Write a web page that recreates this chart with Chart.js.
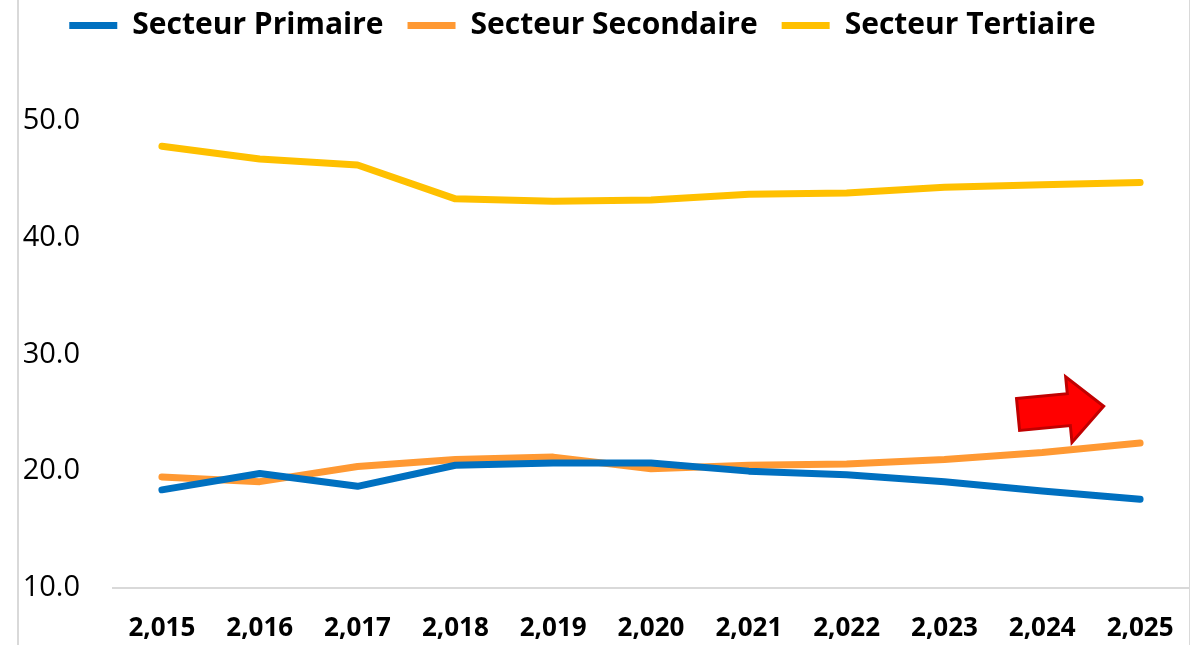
<!DOCTYPE html>
<html>
<head>
<meta charset="utf-8">
<script src="https://cdn.jsdelivr.net/npm/chart.js@4.4.1/dist/chart.umd.min.js"></script>
<style>
    html, body { margin: 0; padding: 0; background: #ffffff; }
    #wrap { position: relative; width: 1190px; height: 645px; }
    #frame {
        position: absolute; left: 17px; top: 0; width: 1170px; height: 645px;
        border-left: 2px solid #d9d9d9; border-right: 1px solid #d9d9d9;
        pointer-events: none;
    }
</style>
</head>
<body>
<div id="wrap">
    <canvas id="sectorChart" width="1190" height="645"></canvas>
    <div id="frame"></div>
</div>
<script>
// 연도 (엑셀 천단위 서식 그대로)
const years = ['2,015', '2,016', '2,017', '2,018', '2,019', '2,020', '2,021', '2,022', '2,023', '2,024', '2,025'];

// 부문별 비중 (%)
const primaire   = [18.4, 19.8, 18.7, 20.5, 20.7, 20.7, 20.0, 19.7, 19.1, 18.3, 17.6];
const secondaire = [19.5, 19.1, 20.4, 21.0, 21.2, 20.2, 20.5, 20.6, 21.0, 21.6, 22.4];
const tertiaire  = [47.8, 46.7, 46.2, 43.3, 43.1, 43.2, 43.7, 43.8, 44.3, 44.5, 44.7];

const yTicks = [10, 20, 30, 40, 50];

// 빨간 화살표 위치 (x = 연도 인덱스, y = 값)
const arrowAnchor = { x: 9.19, y: 25.2 };

const FONT = "'Open Sans', 'Noto Sans', sans-serif";

// 화살표 그리는 플러그인
const arrowPlugin = {
    id: 'trendArrow',
    afterDatasetsDraw(chart) {
        const ctx = chart.ctx;
        const cx = chart.scales.x.getPixelForValue(arrowAnchor.x);
        const cy = chart.scales.y.getPixelForValue(arrowAnchor.y);

        ctx.save();
        ctx.translate(cx, cy);
        ctx.rotate(-5.5 * Math.PI / 180);
        ctx.beginPath();
        ctx.moveTo(-43, -16);
        ctx.lineTo(8, -16);
        ctx.lineTo(8, -33);
        ctx.lineTo(43, 0);
        ctx.lineTo(8, 33);
        ctx.lineTo(8, 16);
        ctx.lineTo(-43, 16);
        ctx.closePath();
        ctx.fillStyle = '#ff0000';
        ctx.fill();
        ctx.lineWidth = 3;
        ctx.lineJoin = 'miter';
        ctx.strokeStyle = '#c00000';
        ctx.stroke();
        ctx.restore();
    }
};

// 범례를 원본처럼 살짝 왼쪽으로
const legendShiftPlugin = {
    id: 'legendShift',
    afterLayout(chart) {
        if (chart.legend) {
            chart.legend.left -= 12;
            chart.legend.right -= 12;
        }
    }
};

function makeDataset(label, data, color) {
    return {
        label: label,
        data: data,
        borderColor: color,
        backgroundColor: color,
        borderWidth: 7,
        borderCapStyle: 'round',
        borderJoinStyle: 'round',
        pointRadius: 0,
        pointHoverRadius: 0,
        tension: 0,
        fill: false
    };
}

const ctx = document.getElementById('sectorChart').getContext('2d');

new Chart(ctx, {
    type: 'line',
    data: {
        labels: years,
        datasets: [
            makeDataset('Secteur Primaire', primaire, '#0070c0'),
            makeDataset('Secteur Secondaire', secondaire, '#ff9933'),
            makeDataset('Secteur Tertiaire', tertiaire, '#ffc000')
        ]
    },
    options: {
        responsive: false,
        animation: false,
        devicePixelRatio: 1,
        layout: {
            padding: { top: -15, right: 1, left: 0, bottom: 0 }
        },
        plugins: {
            legend: {
                position: 'top',
                labels: {
                    usePointStyle: true,
                    pointStyle: 'line',
                    pointStyleWidth: 48,
                    padding: 24,
                    color: '#000000',
                    font: { family: FONT, size: 30, weight: 'bold' }
                }
            },
            tooltip: { enabled: false }
        },
        scales: {
            x: {
                offset: true,
                grid: { display: false, drawTicks: false },
                border: { display: true, color: '#d9d9d9', width: 2 },
                ticks: {
                    color: '#000000',
                    padding: 25,
                    maxRotation: 0,
                    autoSkip: false,
                    font: { family: FONT, size: 26, weight: 'bold' }
                },
                afterFit: (scale) => {
                    scale.height = 57;
                    // 라벨 때문에 생기는 좌우 여백 제거
                    scale.paddingLeft = 0;
                    scale.paddingRight = 0;
                }
            },
            y: {
                min: 10,
                max: 56,
                grid: { display: false, drawTicks: false },
                border: { display: false },
                ticks: {
                    color: '#000000',
                    padding: 33,
                    font: { family: FONT, size: 29 },
                    callback: (value) => Number(value).toFixed(1)
                },
                afterBuildTicks: (scale) => {
                    scale.ticks = yTicks.map(v => ({ value: v }));
                },
                afterFit: (scale) => { scale.width = 113; }
            }
        }
    },
    plugins: [arrowPlugin, legendShiftPlugin]
});
</script>
</body>
</html>
